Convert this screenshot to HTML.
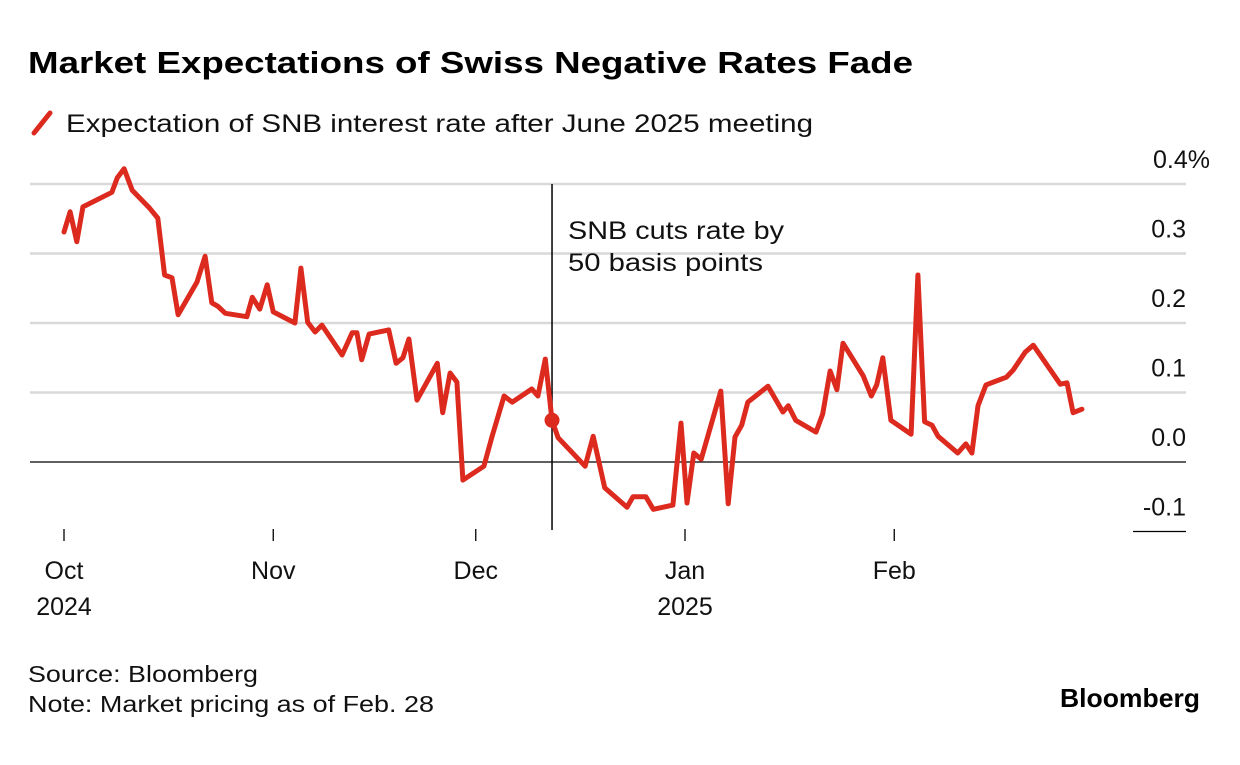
<!DOCTYPE html>
<html><head><meta charset="utf-8"><style>
body{margin:0;background:#fff;width:1240px;height:760px;overflow:hidden;font-family:"Liberation Sans",sans-serif;}
svg text{font-family:"Liberation Sans",sans-serif;}
</style></head><body>
<svg width="1240" height="760">
<text x="28" y="73" font-size="31" font-weight="bold" fill="#000" textLength="885" lengthAdjust="spacingAndGlyphs">Market Expectations of Swiss Negative Rates Fade</text>
<g>
<line x1="34" y1="133" x2="50" y2="113" stroke="#dd2a1f" stroke-width="5" stroke-linecap="round"/>
<text x="66" y="132" font-size="25" fill="#111" textLength="747" lengthAdjust="spacingAndGlyphs">Expectation of SNB interest rate after June 2025 meeting</text>
</g>
<g id="grid"></g>
<g id="xax"></g>
<g id="yax"></g>
<g id="series"></g>
<text x="568" y="239" font-size="25" fill="#111" textLength="216" lengthAdjust="spacingAndGlyphs">SNB cuts rate by</text>
<text x="568" y="271" font-size="25" fill="#111" textLength="195" lengthAdjust="spacingAndGlyphs">50 basis points</text>
<text x="28" y="682" font-size="23" fill="#111" textLength="230" lengthAdjust="spacingAndGlyphs">Source: Bloomberg</text>
<text x="28" y="712" font-size="23" fill="#111" textLength="406" lengthAdjust="spacingAndGlyphs">Note: Market pricing as of Feb. 28</text>
<text x="1060" y="707" font-size="26" font-weight="bold" fill="#000" textLength="140" lengthAdjust="spacingAndGlyphs">Bloomberg</text>
</svg>
<script>
const days=[0,0.9,1.9,2.8,7.1,7.9,8.9,10.1,12.7,13.9,14.9,16,16.9,19.7,20.9,21.9,22.8,23.9,27.1,27.9,29,30.1,31,34.2,35.1,36.1,37.2,38.2,41.2,42.7,43.4,44.1,45.2,48.1,49.2,50.2,51.1,52.3,55.3,56.1,57.2,58.2,59.1,62.2,63.4,65.2,66.4,69.3,70.2,71.3,72.3,73.2,77.2,78.4,80.1,83.4,84.3,86.2,87.3,90.2,91.4,92.3,93.3,94.4,97.3,98.4,99.4,100.4,101.3,104.3,106.5,107.3,108.4,111.4,112.4,113.5,114.5,115.4,118.4,119.6,120.4,121.3,122.5,125.5,126.5,127.5,128.6,129.5,132.4,133.6,134.5,135.4,136.6,139.6,140.6,142.4,143.6,147.6,148.6,149.5,150.8];
const rates=[.331,.360,.317,.367,.388,.409,.422,.391,.365,.351,.269,.265,.212,.259,.296,.229,.224,.214,.209,.237,.220,.255,.216,.200,.279,.201,.187,.197,.154,.186,.186,.147,.184,.190,.142,.150,.177,.089,.142,.071,.128,.115,-.026,-.006,.036,.095,.086,.105,.095,.148,.060,.035,-.006,.037,-.037,-.065,-.050,-.050,-.068,-.062,.056,-.059,.013,.004,.102,-.060,.036,.053,.086,.109,.072,.081,.060,.043,.069,.131,.104,.171,.124,.095,.111,.150,.060,.040,.269,.058,.053,.037,.013,.026,.013,.081,.111,.122,.132,.158,.168,.112,.114,.071,.076];
const yTicks=[0.4,0.3,0.2,0.1,0.0,-0.1];
const yTickLabels=["0.4%","0.3","0.2","0.1","0.0","-0.1"];
const monthDays=[0,31,61,92,123];
const monthLabels=["Oct","Nov","Dec","Jan","Feb"];
const yearLabels=["2024","","","2025",""];
const cutDay=72.3;
const NS="http://www.w3.org/2000/svg";
const xS=d=>64+d*6.75;
const yS=v=>462-v*695;
function mk(t,a,p){const e=document.createElementNS(NS,t);for(const k in a)e.setAttribute(k,a[k]);p.appendChild(e);return e;}
const grid=document.getElementById('grid'),yax=document.getElementById('yax'),xax=document.getElementById('xax'),ser=document.getElementById('series');
yTicks.forEach((v,i)=>{
 const y=yS(v);
 let l;
 if(v===0){l=mk('line',{x1:30,x2:1186,y1:y,y2:y,stroke:'#000','stroke-width':1.3},grid);}
 else if(v<0){l=mk('line',{x1:1133,x2:1186,y1:y,y2:y,stroke:'#000','stroke-width':1.3},grid);}
 else{l=mk('line',{x1:30,x2:1186,y1:y,y2:y,stroke:'#d9d9d9','stroke-width':2.5},grid);}
 
 
 const t=mk('text',{x:i===0?1210:1186,y:y-16,'font-size':25,'text-anchor':'end',fill:'#111'},yax);
 t.textContent=yTickLabels[i];
 
 
});
monthDays.forEach((d,i)=>{
 const x=xS(d);
 const tk=mk('line',{x1:x,x2:x,y1:529,y2:541,stroke:'#000','stroke-width':1.3},xax);
 
 
 const t=mk('text',{x:x,y:579,'font-size':25,'text-anchor':'middle',fill:'#111'},xax);
 t.textContent=monthLabels[i];
 
 
 if(yearLabels[i]){const t2=mk('text',{x:x,y:615,'font-size':25,'text-anchor':'middle',fill:'#111'},xax);
 t2.textContent=yearLabels[i];
 
 }
});
const vl=mk('line',{x1:xS(cutDay),x2:xS(cutDay),y1:184,y2:530,stroke:'#000','stroke-width':1.5},ser);


const pts=days.map((d,i)=>xS(d).toFixed(1)+','+yS(rates[i]).toFixed(1)).join(' ');
const pl=mk('polyline',{points:pts,fill:'none',stroke:'#dd2a1f','stroke-width':5,'stroke-linejoin':'round','stroke-linecap':'round'},ser);


const ci=days.indexOf(cutDay);
const dot=mk('circle',{cx:xS(cutDay),cy:yS(rates[ci]),r:7.5,fill:'#dd2a1f'},ser);


</script>
</body></html>
